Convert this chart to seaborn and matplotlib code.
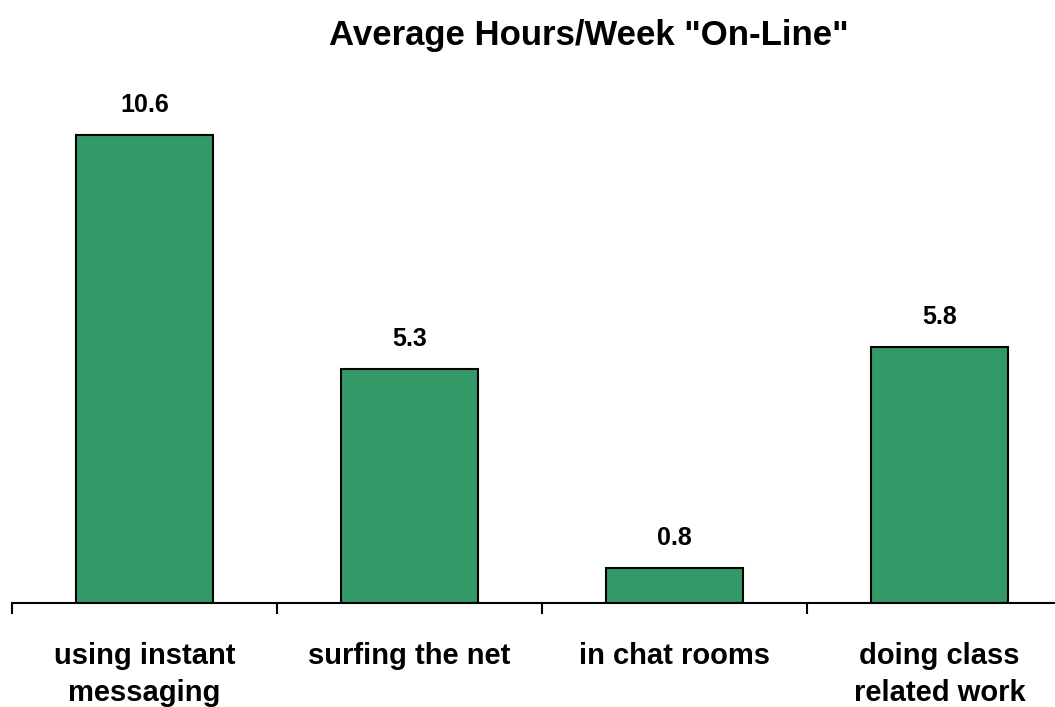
import matplotlib
matplotlib.use('Agg')
import matplotlib.pyplot as plt
import seaborn as sns
import pandas as pd

sns.set_style('white')
plt.rcParams['font.family'] = ['Liberation Sans', 'DejaVu Sans']
plt.rcParams['text.color'] = 'black'
plt.rcParams['xtick.color'] = 'black'
plt.rcParams['xtick.labelcolor'] = 'black'

# data
categories = ['using instant\nmessaging', 'surfing the net', 'in chat rooms', 'doing class\nrelated work']
hours = [10.6, 5.3, 0.8, 5.8]
value_labels = ['10.6', '5.3', '0.8', '5.8']

df = pd.DataFrame({'activity': categories, 'hours': hours})

fig = plt.figure(figsize=(10.55, 7.07), dpi=100)
W, H = 1055, 707
# axes runs past the right edge, like the original
ax = fig.add_axes([12 / W, (H - 603) / H, 1060 / W, 530 / H])

sns.barplot(data=df, x='activity', y='hours', color='#339966', saturation=1,
            width=0.52, edgecolor='black', linewidth=1.5, ax=ax)

ax.set_ylim(0, 12)
ax.set_xlim(-0.5, 3.5)

# value labels above bars
for i, (v, lab) in enumerate(zip(hours, value_labels)):
    ax.annotate(lab, (i, v), xytext=(0, 30), textcoords='offset pixels',
                ha='center', va='center', fontsize=18, fontweight='bold')

for s in ['top', 'right', 'left']:
    ax.spines[s].set_visible(False)
ax.spines['bottom'].set_color('black')
ax.spines['bottom'].set_linewidth(1.5)
ax.set_yticks([])
ax.set_xlabel('')
ax.set_ylabel('')

ax.set_xticks(range(len(categories)))
ax.set_xticklabels(categories, fontsize=21, fontweight='bold', linespacing=1.4)
ax.tick_params(axis='x', which='major', bottom=True, length=0, pad=28)
ax.set_xticks([-0.5, 0.5, 1.5, 2.5, 3.5], minor=True)
ax.tick_params(axis='x', which='minor', bottom=True, length=8, width=1.5,
               color='black', direction='out')

fig.text(589 / W, 1 - 35 / H, 'Average Hours/Week "On-Line"', ha='center', va='center',
         fontsize=25, fontweight='bold')

fig.savefig('out.png', dpi=100, facecolor='white')
